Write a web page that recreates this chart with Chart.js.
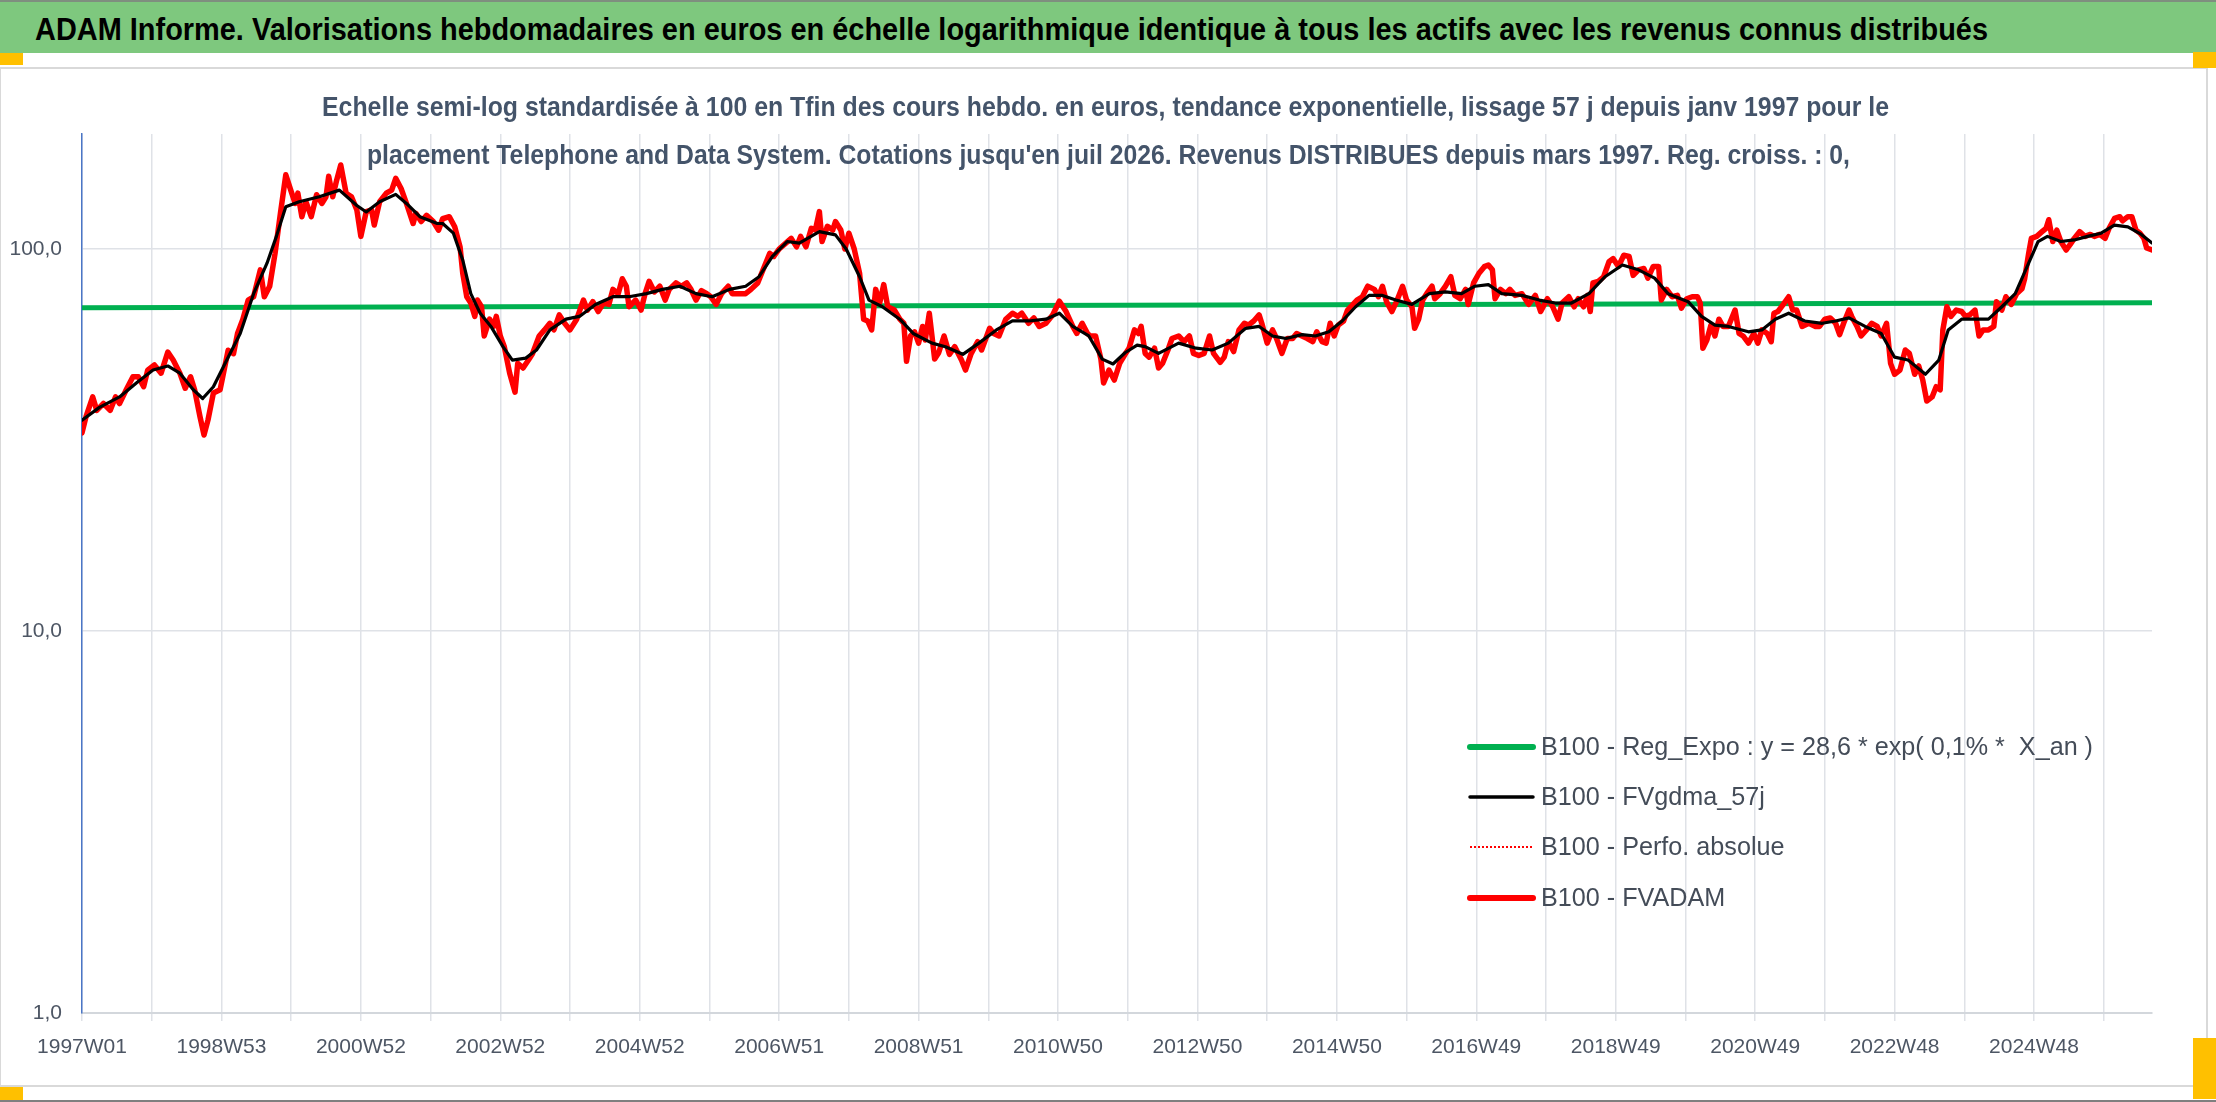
<!DOCTYPE html>
<html lang="fr">
<head>
<meta charset="utf-8">
<title>ADAM Informe - Telephone and Data System</title>
<script src="https://cdn.jsdelivr.net/npm/chart.js@4.4.1/dist/chart.umd.min.js"></script>
<style>
  html, body { margin: 0; padding: 0; background: #ffffff; }
  body { position: relative; width: 2216px; height: 1102px; overflow: hidden; font-family: "Liberation Sans", Arial, sans-serif; }
  .bar-top { position: absolute; left: 0; top: 0; width: 2216px; height: 2px; background: #7f8f7f; }
  .bar-bottom { position: absolute; left: 0; top: 1100px; width: 2216px; height: 2px; background: #7f7f7f; }
  .banner { position: absolute; left: 0; top: 2px; width: 2216px; height: 51px; background: #7ec87e; }
  .fit { position: absolute; white-space: nowrap; line-height: 1; transform-origin: 0 0; }
  #bannerText { font-weight: bold; font-size: 31px; color: #000000; }
  .sub { font-weight: bold; font-size: 27px; color: #44546a; z-index: 5; }
  .frame { position: absolute; left: 0; top: 67px; width: 2205px; height: 1016px; border: 2px solid #d9d9d9; border-left-width: 1px; box-sizing: content-box; }
  #wrap { position: absolute; left: 0; top: 68px; width: 2206px; height: 1016px; }
  .handle { position: absolute; background: #ffc000; }
</style>
</head>
<body>
<div class="bar-top"></div>
<div class="banner"></div>
<div id="bannerText" class="fit">ADAM Informe. Valorisations hebdomadaires en euros en échelle logarithmique identique à tous les actifs avec les revenus connus distribués</div>
<div class="frame"></div>
<div id="wrap"><canvas id="chart"></canvas></div>
<div id="sub1" class="fit sub">Echelle semi-log standardisée à 100 en Tfin des cours hebdo. en euros, tendance exponentielle, lissage 57 j depuis janv 1997 pour le</div>
<div id="sub2" class="fit sub">placement Telephone and Data System. Cotations jusqu'en juil 2026. Revenus DISTRIBUES depuis mars 1997. Reg. croiss. : 0,</div>
<div class="handle" style="left:0;top:53px;width:23px;height:12px"></div>
<div class="handle" style="left:2193px;top:52px;width:23px;height:16px"></div>
<div class="handle" style="left:0;top:1087px;width:23px;height:13px"></div>
<div class="handle" style="left:2193px;top:1038px;width:23px;height:61px"></div>
<div class="bar-bottom"></div>

<script>
// semaines depuis 1997W01 (index de semaine) et valeurs base 100
const seriesNames = [
    'B100 - Reg_Expo : y = 28,6 * exp( 0,1% *  X_an )',
    'B100 - FVgdma_57j',
    'B100 - Perfo. absolue',
    'B100 - FVADAM'
];

const xTickLabels = ['1997W01', '1998W53', '2000W52', '2002W52', '2004W52', '2006W51', '2008W51',
    '2010W50', '2012W50', '2014W50', '2016W49', '2018W49', '2020W49', '2022W48', '2024W48'];
const yTickValues = [1, 10, 100];
const yTickLabels = ['1,0', '10,0', '100,0'];
const lastWeek = 1544;

const regWeeks = [0, 1544];
const regExpo = [70.2, 72.3];

const fvadamWeeks = [0, 3, 8, 11, 16, 21, 25, 28, 33, 38, 42, 46, 49, 54, 59, 64, 68, 73, 77, 81,
    84, 88, 91, 94, 98, 103, 105, 109, 113, 116, 120, 124, 128, 133, 136, 140, 144, 148, 152, 156,
    159, 161, 164, 167, 171, 175, 179, 182, 184, 187, 190, 193, 197, 201, 205, 208, 212, 216, 218, 222,
    227, 231, 234, 238, 242, 247, 249, 253, 257, 262, 266, 269, 274, 278, 282, 284, 287, 290, 293, 295,
    298, 300, 304, 307, 309, 312, 315, 319, 323, 325, 329, 333, 336, 341, 345, 349, 352, 356, 360, 364,
    369, 374, 377, 381, 385, 389, 393, 396, 400, 403, 406, 408, 413, 417, 420, 423, 427, 431, 435, 438,
    443, 447, 451, 454, 458, 462, 466, 469, 473, 477, 482, 485, 490, 495, 499, 504, 508, 513, 516, 520,
    525, 529, 533, 536, 540, 544, 547, 550, 552, 556, 560, 562, 566, 569, 572, 576, 580, 583, 586, 589,
    592, 595, 598, 601, 606, 610, 613, 615, 618, 621, 624, 627, 629, 632, 636, 639, 643, 647, 651, 656,
    659, 663, 668, 671, 677, 680, 684, 689, 694, 698, 701, 706, 710, 714, 719, 724, 729, 734, 739, 742,
    746, 750, 752, 756, 760, 762, 766, 770, 774, 778, 781, 785, 788, 790, 793, 796, 800, 803, 806, 810,
    813, 818, 822, 826, 829, 833, 837, 841, 844, 849, 852, 855, 859, 863, 867, 870, 874, 878, 880, 884,
    888, 891, 895, 899, 903, 906, 910, 914, 918, 921, 925, 928, 931, 934, 937, 941, 944, 948, 951, 955,
    959, 964, 967, 970, 973, 977, 981, 985, 988, 992, 994, 997, 1000, 1003, 1007, 1009, 1013, 1017, 1021, 1024,
    1028, 1032, 1034, 1038, 1042, 1046, 1049, 1052, 1054, 1058, 1062, 1065, 1069, 1074, 1079, 1084, 1088, 1093, 1097, 1101,
    1104, 1109, 1113, 1116, 1120, 1123, 1125, 1127, 1131, 1135, 1139, 1142, 1146, 1150, 1154, 1157, 1161, 1165, 1168, 1172,
    1176, 1178, 1182, 1186, 1190, 1193, 1197, 1201, 1205, 1207, 1209, 1212, 1215, 1218, 1221, 1224, 1228, 1233, 1236, 1239,
    1243, 1247, 1250, 1253, 1257, 1260, 1262, 1265, 1269, 1273, 1276, 1279, 1283, 1288, 1293, 1296, 1300, 1304, 1308, 1311,
    1314, 1318, 1320, 1324, 1327, 1331, 1335, 1339, 1342, 1346, 1349, 1352, 1356, 1360, 1363, 1367, 1370, 1373, 1376, 1380,
    1383, 1386, 1388, 1391, 1394, 1398, 1402, 1405, 1408, 1412, 1415, 1418, 1422, 1426, 1428, 1432, 1435, 1439, 1443, 1447,
    1449, 1452, 1454, 1458, 1462, 1465, 1467, 1470, 1473, 1476, 1480, 1483, 1486, 1490, 1494, 1498, 1501, 1505, 1509, 1512,
    1516, 1520, 1522, 1526, 1529, 1532, 1535, 1538, 1540, 1544];
const fvadam = [33.0, 36.4, 41.0, 37.8, 39.4, 37.8, 41.0, 39.4, 42.8, 46.3, 46.3, 43.6, 48.2, 49.7, 47.3, 53.7, 51.2, 47.3, 43.2, 46.3,
    42.8, 36.4, 32.6, 35.7, 42.0, 42.8, 46.3, 54.3, 53.2, 60.1, 65.5, 73.5, 75.0, 88.2, 75.0, 79.9, 97.4, 124, 156.4, 141.5,
    131.6, 140, 121.5, 133, 121.5, 138.7, 131.6, 137, 155, 137, 151.6, 165.9, 140, 137, 126.6, 107.9, 125.3, 126.6, 115.5, 133,
    140, 142.6, 153.1, 144, 131.6, 116.6, 124, 118, 122.5, 118, 112, 120, 121.5, 114.3, 101.3, 86.4, 75, 72.2, 66.6, 73.5,
    70.6, 59.2, 65.5, 62.7, 66.6, 59.2, 55.5, 47.3, 42.2, 50.2, 48.8, 51.2, 53.2, 59.2, 61.4, 63.9, 61.4, 67.2, 63.9, 61.4,
    65.5, 73.5, 69.2, 72.8, 68.6, 72.2, 71.6, 78.4, 76.4, 83.6, 79.9, 70.6, 73.5, 69.2, 76.4, 82.3, 77.2, 79.9, 73.5, 78.4,
    81.5, 79.9, 81.5, 78.7, 73.5, 77.8, 76.4, 75, 71.6, 76.4, 79.9, 76.4, 76.4, 76.4, 78.4, 81.5, 88.2, 97.4, 95.6, 100,
    103.6, 106.6, 101.3, 107.9, 101.3, 113.3, 112.1, 125.3, 104.6, 114.7, 112.1, 118, 112.1, 100, 110, 100, 86.4, 65.5, 64.8, 61.4,
    78.4, 72.2, 80.7, 70.6, 69.2, 65.5, 63.9, 50.8, 59.2, 60.7, 56.7, 62.7, 57.8, 67.9, 51.5, 53.5, 59.2, 53, 55.5, 51.2,
    48.2, 53, 57.2, 54.4, 62, 60.1, 59.2, 65.5, 67.9, 66.6, 67.9, 63.9, 66, 62.7, 63.9, 67.2, 73, 68.6, 62.7, 60.1,
    63.9, 60.1, 59.2, 59.2, 51.5, 44.6, 48.2, 45.4, 50.2, 53, 55, 61.4, 60.1, 62.7, 53.3, 52.1, 55, 48.8, 50.2, 54.4,
    58.3, 59.2, 57.2, 59.2, 53.3, 52.6, 53.3, 59.2, 53.3, 50.5, 52.1, 57.2, 53.9, 61.4, 63.9, 63.2, 64.8, 67.2, 63.9, 56.7,
    61.4, 58.3, 53.3, 58.3, 58.3, 60.1, 59.2, 58.3, 57.2, 60.7, 57.2, 56.7, 63.9, 59.2, 63.2, 64.8, 69.2, 71.6, 73.5, 75,
    79.9, 78.4, 75, 79.9, 72.8, 68.6, 73.5, 79.9, 73.5, 70.6, 62, 65.5, 73.5, 76.4, 79.9, 74.1, 76.4, 79.9, 84.6, 75.6,
    74.1, 78.4, 71.6, 81.5, 86.4, 89.9, 90.8, 88.2, 74.1, 78.4, 76.4, 78.4, 75.6, 76.4, 71.6, 75.6, 68.6, 74.1, 70.6, 65.5,
    72.2, 75, 70.6, 74.1, 70.6, 75.6, 68.6, 81.5, 82.3, 84.6, 92.6, 94.4, 90, 96.3, 95.6, 85.3, 88.2, 88.9, 83.9, 90,
    90, 73.5, 78.4, 75, 75.6, 70, 74.1, 75, 75, 72.2, 55, 57.8, 63.2, 59.2, 65.5, 62.7, 62.7, 69.2, 60.1, 59.2,
    56.7, 60.1, 56.7, 61.4, 60.1, 57.2, 67.9, 68.6, 71.6, 75, 69.2, 69.2, 62.7, 63.9, 62.7, 62.7, 65.5, 66, 63.9, 59.7,
    63.9, 69.2, 66.6, 62.7, 59.2, 61.4, 63.9, 62.7, 59.2, 63.9, 50.2, 47, 48.2, 54.4, 53.3, 47, 49.4, 45.4, 40, 41,
    43.6, 42.8, 61.4, 70.6, 66.6, 69.2, 68.6, 66.6, 67.2, 69.2, 59.2, 61.4, 61.4, 62.7, 72.8, 69.2, 75, 71.6, 76.4, 78.7,
    83.6, 97.4, 106.6, 107.9, 111, 113.3, 119.3, 104.6, 112.1, 104.6, 99.4, 102.8, 106.6, 111, 107.9, 109.2, 107.9, 109.2, 106.6, 113.3,
    120.2, 121.5, 118.5, 121.5, 121.5, 112.1, 110, 106.6, 100.6, 99.4];

const gdmaWeeks = [0, 13, 28, 41, 53, 64, 73, 83, 90, 98, 108, 118, 128, 138, 145, 152, 162, 177, 192, 205,
    212, 222, 234, 242, 252, 265, 269, 277, 284, 290, 297, 305, 314, 321, 331, 339, 349, 361, 371, 383,
    396, 408, 421, 433, 446, 458, 470, 483, 495, 505, 515, 526, 535, 550, 562, 570, 580, 587, 597, 610,
    620, 634, 644, 657, 669, 682, 694, 706, 719, 729, 739, 751, 761, 769, 778, 787, 793, 803, 818, 831,
    843, 855, 868, 878, 888, 898, 910, 920, 930, 940, 950, 960, 970, 980, 992, 1005, 1017, 1029, 1039, 1049,
    1059, 1074, 1087, 1099, 1111, 1124, 1136, 1149, 1161, 1173, 1183, 1198, 1208, 1218, 1228, 1243, 1253, 1263, 1273, 1285,
    1298, 1308, 1318, 1330, 1342, 1352, 1362, 1375, 1385, 1392, 1402, 1412, 1422, 1432, 1442, 1452, 1459, 1466, 1476, 1486,
    1496, 1506, 1516, 1526, 1536, 1544];
const fvgdma = [35.6, 38.5, 41, 44.7, 48.2, 49.4, 47.3, 42.8, 40.6, 43.6, 51.2, 60.1, 76.4, 91.8, 107.9, 129, 133, 137, 142.6, 130,
    125, 133, 139, 131.6, 121.5, 116.6, 116.6, 110, 93.5, 76.4, 67.9, 62.7, 55.5, 51.2, 51.8, 54.4, 61.4, 65.5, 66.6, 71.6,
    75, 75, 76.4, 78.4, 79.9, 76.4, 75, 78.4, 79.9, 84.6, 95.6, 104.6, 103.6, 111, 108.9, 100, 84.6, 73.5, 70.6, 65.5,
    60.1, 56.7, 55.5, 53, 56.7, 61.4, 64.8, 64.8, 65.5, 67.9, 62.7, 59.2, 51.5, 50, 53.5, 56, 55.5, 53.3, 56.7, 55,
    54.4, 56.7, 62, 62.7, 59.2, 58.3, 59.7, 59.2, 60.7, 64.8, 70.6, 75.6, 75.6, 73.5, 71.6, 76.4, 77.2, 76.4, 79.9, 80.7,
    76.4, 75.6, 73.5, 72.2, 72.2, 76.4, 84.6, 90.8, 88.2, 83.9, 76.4, 72.8, 66.6, 63.2, 62.7, 60.7, 61.4, 65.5, 67.9, 64.8,
    63.9, 64.8, 66, 62.7, 60.1, 52.1, 51.2, 47, 51.2, 61.4, 65.5, 65.5, 65.5, 70.6, 76.4, 91.8, 104.6, 107.9, 104.6, 105.6,
    107.9, 110, 115.5, 114.3, 109.2, 103.6];

const toPoints = (xs, ys) => xs.map((x, i) => ({ x: x, y: ys[i] }));

// police etroite si elle est installee (plus proche de Calibri)
function hasFont(name) {
    const c = document.createElement('canvas').getContext('2d');
    c.font = '40px monospace';
    const a = c.measureText('mmmWWWiii1997,0').width;
    c.font = '40px "' + name + '", monospace';
    return c.measureText('mmmWWWiii1997,0').width !== a;
}
const narrow = hasFont('Liberation Sans Narrow');
const family = narrow ? '"Liberation Sans Narrow", "Liberation Sans", sans-serif' : '"Liberation Sans", Arial, sans-serif';
const tickFont = { family: family, size: narrow ? 23 : 21 };
const gridColor = '#dfe2e7';

// legende dessinee dans la zone de trace, comme dans Excel
const insideLegend = {
    id: 'insideLegend',
    afterDraw(chart) {
        const c = chart.ctx;
        const rows = [679, 729, 779, 830];
        const x0 = 1470, x1 = 1533, tx = 1541;
        c.save();
        c.font = '26px ' + family;
        const sx = 552 / c.measureText(seriesNames[0]).width;
        chart.data.datasets.forEach((ds, i) => {
            const y = rows[i];
            c.beginPath();
            c.strokeStyle = ds.borderColor;
            c.lineWidth = ds.legendWidth;
            c.lineCap = ds.borderDash.length ? 'butt' : 'round';
            c.setLineDash(ds.borderDash);
            c.moveTo(x0, y);
            c.lineTo(x1, y);
            c.stroke();
            c.setLineDash([]);
            c.save();
            c.translate(tx, y);
            c.scale(sx, 1);
            c.fillStyle = '#444c58';
            c.textBaseline = 'middle';
            c.fillText(ds.label, 0, 1);
            c.restore();
        });
        c.restore();
    }
};

const ctx = document.getElementById('chart').getContext('2d');
const chart = new Chart(ctx, {
    type: 'line',
    data: {
        datasets: [{
            label: seriesNames[0],
            data: toPoints(regWeeks, regExpo),
            borderColor: '#00b050',
            borderWidth: 5,
            legendWidth: 6,
            borderDash: [],
            order: 3
        }, {
            label: seriesNames[1],
            data: toPoints(gdmaWeeks, fvgdma),
            borderColor: '#000000',
            borderWidth: 3.2,
            legendWidth: 3.5,
            borderDash: [],
            order: 0
        }, {
            label: seriesNames[2],
            data: toPoints(fvadamWeeks, fvadam),
            borderColor: '#ff0000',
            borderWidth: 1.5,
            legendWidth: 2,
            borderDash: [2, 2],
            order: 2
        }, {
            label: seriesNames[3],
            data: toPoints(fvadamWeeks, fvadam),
            borderColor: '#ff0000',
            borderWidth: 5.5,
            legendWidth: 6,
            borderDash: [],
            order: 1
        }]
    },
    options: {
        responsive: true,
        maintainAspectRatio: false,
        animation: false,
        parsing: false,
        normalized: true,
        layout: { padding: { top: 66, right: 54, left: 0, bottom: 0 } },
        elements: {
            point: { radius: 0, hoverRadius: 0 },
            line: { tension: 0, borderJoinStyle: 'round', borderCapStyle: 'round', fill: false }
        },
        plugins: {
            legend: { display: false },
            tooltip: { enabled: false },
            title: { display: false }
        },
        scales: {
            x: {
                type: 'linear',
                min: 0,
                max: lastWeek,
                afterBuildTicks: (s) => {
                    const t = [];
                    for (let v = 0; v <= lastWeek; v += 52) t.push({ value: v });
                    s.ticks = t;
                },
                afterFit: (s) => { s.height = 71; },
                ticks: {
                    autoSkip: false,
                    maxRotation: 0,
                    minRotation: 0,
                    padding: 14,
                    font: tickFont,
                    color: '#4d5664',
                    callback: (v) => (v % 104 === 0 ? xTickLabels[v / 104] : '')
                },
                grid: { color: gridColor, lineWidth: 1.5, tickLength: 8, drawTicks: true },
                border: { color: '#d3d7dc', width: 2 }
            },
            y: {
                type: 'logarithmic',
                min: 1,
                max: 200,
                afterBuildTicks: (s) => { s.ticks = yTickValues.map(v => ({ value: v })); },
                afterFit: (s) => { s.width = 82; },
                ticks: {
                    padding: 20,
                    font: tickFont,
                    color: '#4d5664',
                    callback: (v) => yTickLabels[yTickValues.indexOf(v)]
                },
                grid: { color: gridColor, lineWidth: 1.5, drawTicks: false },
                border: { color: '#4a76c6', width: 1.5 }
            }
        }
    },
    plugins: [insideLegend]
});

// textes du bandeau et du sous-titre, ajustes a la largeur de l'original
function placeText(id, left, baseline, width) {
    const el = document.getElementById(id);
    el.style.fontFamily = family;
    const size = parseFloat(getComputedStyle(el).fontSize);
    el.style.left = left + 'px';
    el.style.top = (baseline - 0.8465 * size) + 'px';
    const w = el.getBoundingClientRect().width;
    el.style.transform = 'scaleX(' + (width / w) + ')';
}
placeText('bannerText', 35, 40, 1953);
placeText('sub1', 322, 117, 1567);
placeText('sub2', 367, 165, 1483);
</script>
</body>
</html>
